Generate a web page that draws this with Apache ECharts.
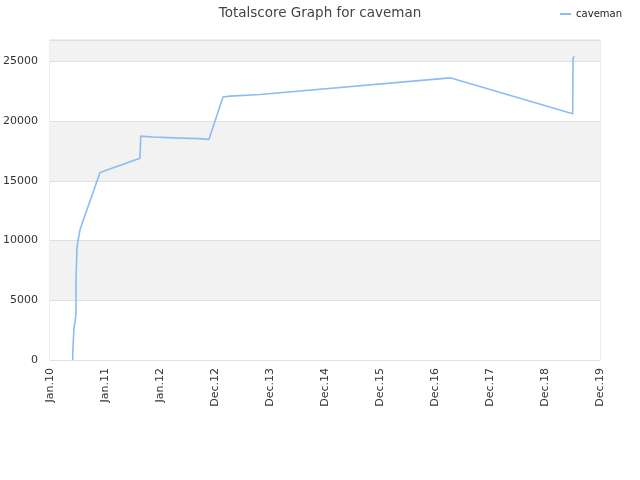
<!DOCTYPE html>
<html>
<head>
<meta charset="utf-8">
<script src="https://cdn.jsdelivr.net/npm/echarts@6/dist/echarts.min.js"></script>
<style>html,body{margin:0;padding:0;background:#fff}#c{width:640px;height:480px}</style>
</head>
<body>
<div id="c"></div>
<script>
// x positions are expressed in tick-label units (0 = Jan.10 ... 10 = Dec.19)
const tickLabels = ['Jan.10','Jan.11','Jan.12','Dec.12','Dec.13','Dec.14','Dec.15','Dec.16','Dec.17','Dec.18','Dec.19'];
const xPos   = [0.413, 0.416, 0.436, 0.455, 0.473, 0.473, 0.49, 0.51, 0.545, 0.909, 0.945, 1.636, 1.649, 1.873, 2.273, 2.691, 2.891, 3.145, 3.273, 3.818, 7.273, 9.504, 9.509, 9.527];
const scores = [0,     900,   2700,  3200,  3900,  6700,  9400, 10000, 10900, 15700, 15800, 16900, 18750, 18680, 18600, 18540, 18480, 22020, 22100, 22240, 23630, 20620, 25220, 25440];
const seriesName = 'caveman';
const yMax = 26800;

const chart = echarts.init(document.getElementById('c'));
chart.setOption({
  animation: false,
  backgroundColor: '#fff',
  textStyle: { fontFamily: 'DejaVu Sans' },
  title: {
    text: 'Totalscore Graph for ' + seriesName,
    left: 'center', top: 1,
    textStyle: { fontSize: 13.5, fontWeight: 'normal', color: '#444', fontFamily: 'DejaVu Sans' }
  },
  legend: {
    right: 13, top: 4,
    icon: 'rect', itemWidth: 11, itemHeight: 2, itemGap: 10,
    textStyle: { fontSize: 10, color: '#222', fontFamily: 'DejaVu Sans' },
    data: [seriesName]
  },
  grid: { left: 50, right: 40, top: 40, bottom: 120, show: true, borderColor: '#dcdcdc', borderWidth: 1, backgroundColor: 'transparent' },
  xAxis: {
    type: 'value', min: 0, max: 10, interval: 1,
    axisLine: { show: false },
    axisTick: { show: false },
    splitLine: { show: false },
    axisLabel: {
      rotate: 90, fontSize: 11, color: '#333', margin: 8, fontFamily: 'DejaVu Sans',
      formatter: v => tickLabels[Math.round(v)] || ''
    }
  },
  yAxis: {
    type: 'value', min: 0, max: yMax, interval: 5000,
    axisLine: { show: false },
    axisTick: { show: false },
    splitLine: { show: true, lineStyle: { color: '#e0e0e0', width: 1 } },
    splitArea: { show: true, areaStyle: { color: ['#ffffff', '#f2f2f2'] } },
    axisLabel: {
      fontSize: 11, color: '#333', margin: 12, fontFamily: 'DejaVu Sans',
      showMaxLabel: false,
      formatter: v => (v % 5000 === 0 ? String(v) : '')
    }
  },
  series: [{
    name: seriesName,
    type: 'line',
    data: xPos.map((x, i) => [x, scores[i]]),
    showSymbol: false, symbol: 'none',
    lineStyle: { color: '#8cbcf0', width: 1.6 },
    itemStyle: { color: '#8cbcf0' }
  }]
});
</script>
</body>
</html>
